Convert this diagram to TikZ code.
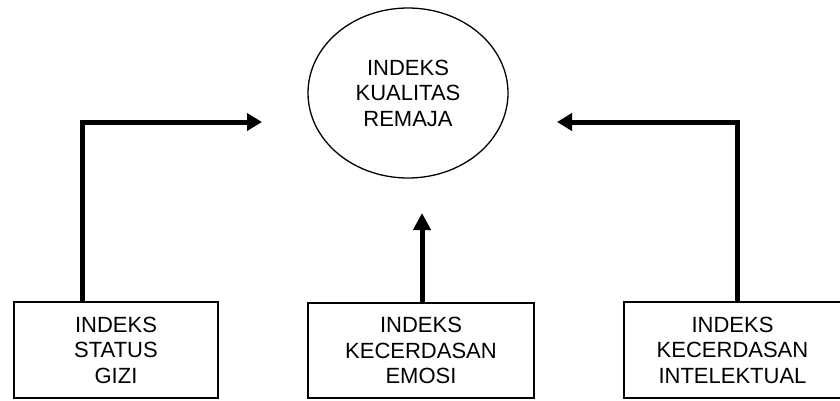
\documentclass[tikz,border=0pt]{standalone}
\usepackage{fontspec}
\setmainfont{Liberation Sans}
\usetikzlibrary{arrows.meta,shapes.geometric}
\begin{document}
\begin{tikzpicture}[x=1pt,y=1pt,
  txt/.style={align=center,font=\fontsize{22}{25.5}\selectfont},
  boxnode/.style={draw,line width=1.8pt,inner sep=0pt,txt},
  arr/.style={line width=5pt,-{Triangle[length=15pt,width=17pt]}},
  arrup/.style={line width=5pt,-{Triangle[length=17pt,width=17pt]}}]
\useasboundingbox (0,0) rectangle (840,-400);
\node[draw,ellipse,line width=1.3pt,minimum width=200pt,minimum height=170pt,inner sep=0pt,txt] (iqr) at (408,-93) {INDEKS\\KUALITAS\\REMAJA};
\node[boxnode,minimum width=204pt,minimum height=96pt] (gizi) at (116,-350) {INDEKS\\STATUS\\GIZI};
\node[boxnode,minimum width=226pt,minimum height=95pt] (emosi) at (421,-350.5) {INDEKS\\KECERDASAN\\EMOSI};
\node[boxnode,minimum width=217pt,minimum height=96pt] (intel) at (732.5,-350) {INDEKS\\KECERDASAN\\INTELEKTUAL};
\coordinate (lt) at (262,-122);
\coordinate (rt) at (557,-122);
\coordinate (mt) at (422,-213);
\draw[arr] (gizi.north -| 82,0) |- (lt);
\draw[arr] (intel.north -| 737,0) |- (rt);
\draw[arrup] (emosi.north -| mt) -- (mt);
\end{tikzpicture}
\end{document}
